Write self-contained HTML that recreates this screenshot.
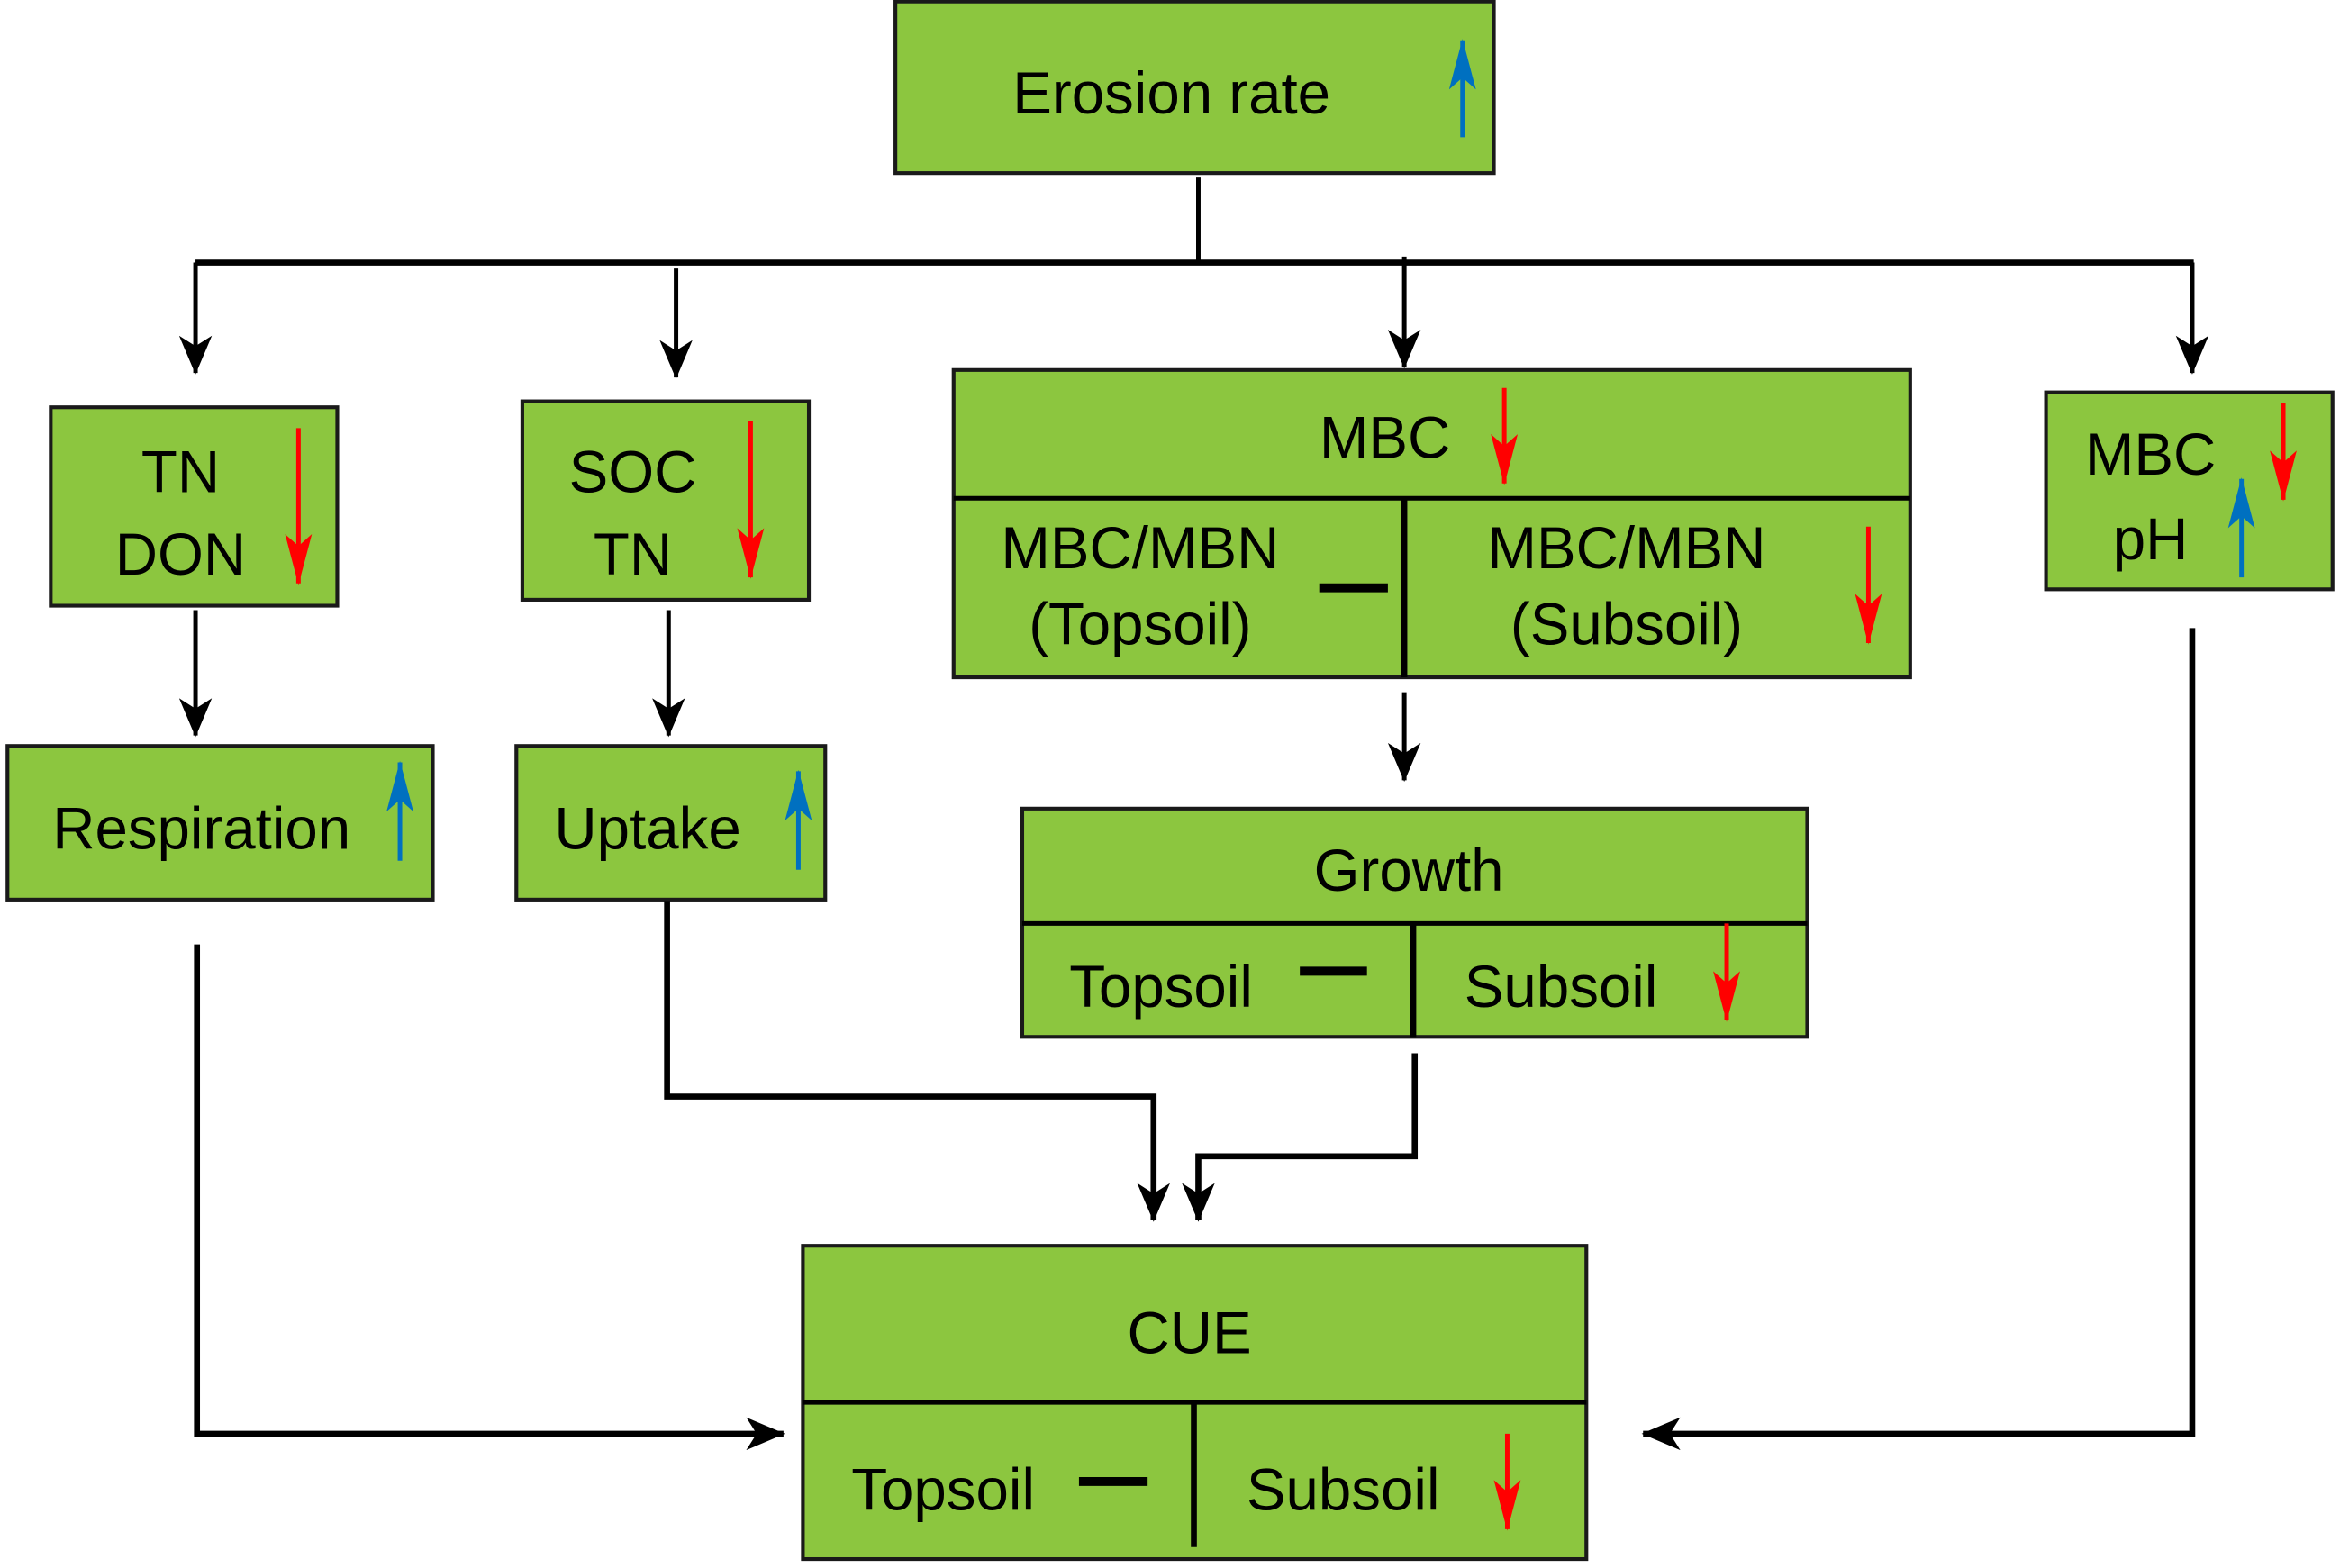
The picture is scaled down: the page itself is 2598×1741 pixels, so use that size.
<!DOCTYPE html>
<html><head><meta charset="utf-8"><style>html,body{margin:0;padding:0;background:#fff}svg{display:block}</style></head>
<body>
<svg width="2598" height="1741" viewBox="0 0 1568 1051" preserveAspectRatio="none" xmlns="http://www.w3.org/2000/svg" font-family="Liberation Sans, Arial, sans-serif" font-size="39.5" text-anchor="middle">
<defs>
<marker id="k" viewBox="0 0 26 22" refX="25" refY="11" markerWidth="26" markerHeight="22" markerUnits="userSpaceOnUse" orient="auto"><path d="M0,0 L26,11 L0,22 L7,11 Z" fill="#000"/></marker>
<marker id="r" viewBox="0 0 34 18" refX="33" refY="9" markerWidth="34" markerHeight="18" markerUnits="userSpaceOnUse" orient="auto"><path d="M0,0 L34,9 L0,18 L8,9 Z" fill="#ff0000"/></marker>
<marker id="b" viewBox="0 0 34 18" refX="33" refY="9" markerWidth="34" markerHeight="18" markerUnits="userSpaceOnUse" orient="auto"><path d="M0,0 L34,9 L0,18 L8,9 Z" fill="#0070c0"/></marker>
</defs>
<g fill="#8cc63f" stroke="#1a1a1a" stroke-width="2.5">
<rect x="600" y="1" width="401" height="115"/>
<rect x="34" y="273" width="192" height="133"/>
<rect x="350" y="269" width="192" height="133"/>
<rect x="639" y="248" width="641" height="206"/>
<rect x="1371" y="263" width="192" height="132"/>
<rect x="5" y="500" width="285" height="103"/>
<rect x="346" y="500" width="207" height="103"/>
<rect x="685" y="542" width="526" height="153"/>
<rect x="538" y="835" width="525" height="210"/>
</g>
<g stroke="#000" stroke-width="3" fill="none">
<line x1="639" y1="334" x2="1280" y2="334"/>
<line x1="941" y1="334" x2="941" y2="454" stroke-width="4"/>
<line x1="685" y1="619" x2="1211" y2="619"/>
<line x1="947" y1="619" x2="947" y2="695" stroke-width="4"/>
<line x1="538" y1="940" x2="1063" y2="940"/>
<line x1="800" y1="940" x2="800" y2="1037" stroke-width="4"/>
<line x1="803" y1="119" x2="803" y2="176"/>
<line x1="131" y1="176" x2="1470" y2="176" stroke-width="4"/>
<line x1="131" y1="176" x2="131" y2="250" marker-end="url(#k)"/>
<line x1="453" y1="180" x2="453" y2="253" marker-end="url(#k)"/>
<line x1="941" y1="172" x2="941" y2="246" marker-end="url(#k)"/>
<line x1="1469" y1="176" x2="1469" y2="250" marker-end="url(#k)"/>
<line x1="131" y1="409" x2="131" y2="493" marker-end="url(#k)"/>
<line x1="448" y1="409" x2="448" y2="493" marker-end="url(#k)"/>
<line x1="941" y1="464" x2="941" y2="523" marker-end="url(#k)"/>
<polyline points="447,604 447,735 773,735 773,818" stroke-width="4" marker-end="url(#k)"/>
<polyline points="948,706 948,775 803,775 803,818" stroke-width="4" marker-end="url(#k)"/>
<polyline points="132,633 132,961 525,961" stroke-width="4" marker-end="url(#k)"/>
<polyline points="1469,421 1469,961 1101,961" stroke-width="4" marker-end="url(#k)"/>
</g>
<g stroke="#000" stroke-width="6">
<line x1="884" y1="394" x2="930" y2="394"/>
<line x1="871" y1="651" x2="916" y2="651"/>
<line x1="723" y1="993" x2="769" y2="993"/>
</g>
<g stroke="#ff0000" stroke-width="3">
<line x1="200" y1="287" x2="200" y2="391" marker-end="url(#r)"/>
<line x1="503" y1="282" x2="503" y2="387" marker-end="url(#r)"/>
<line x1="1008" y1="260" x2="1008" y2="324" marker-end="url(#r)"/>
<line x1="1252" y1="353" x2="1252" y2="431" marker-end="url(#r)"/>
<line x1="1530" y1="270" x2="1530" y2="335" marker-end="url(#r)"/>
<line x1="1157" y1="619" x2="1157" y2="684" marker-end="url(#r)"/>
<line x1="1010" y1="961" x2="1010" y2="1025" marker-end="url(#r)"/>
</g>
<g stroke="#0070c0" stroke-width="3">
<line x1="980" y1="92" x2="980" y2="27" marker-end="url(#b)"/>
<line x1="1502" y1="387" x2="1502" y2="321" marker-end="url(#b)"/>
<line x1="268" y1="577" x2="268" y2="511" marker-end="url(#b)"/>
<line x1="535" y1="583" x2="535" y2="517" marker-end="url(#b)"/>
</g>
<g fill="#000">
<text x="785" y="76">Erosion rate</text>
<text x="121" y="330">TN</text>
<text x="121" y="385">DON</text>
<text x="424" y="330">SOC</text>
<text x="424" y="385">TN</text>
<text x="928" y="307">MBC</text>
<text x="764" y="381">MBC/MBN</text>
<text x="764" y="432">(Topsoil)</text>
<text x="1090" y="381">MBC/MBN</text>
<text x="1090" y="432">(Subsoil)</text>
<text x="1441" y="318">MBC</text>
<text x="1441" y="375">pH</text>
<text x="135" y="569">Respiration</text>
<text x="434" y="569">Uptake</text>
<text x="944" y="597">Growth</text>
<text x="778" y="675">Topsoil</text>
<text x="1046" y="675">Subsoil</text>
<text x="797" y="907">CUE</text>
<text x="632" y="1012">Topsoil</text>
<text x="900" y="1012">Subsoil</text>
</g>
</svg>
</body></html>
